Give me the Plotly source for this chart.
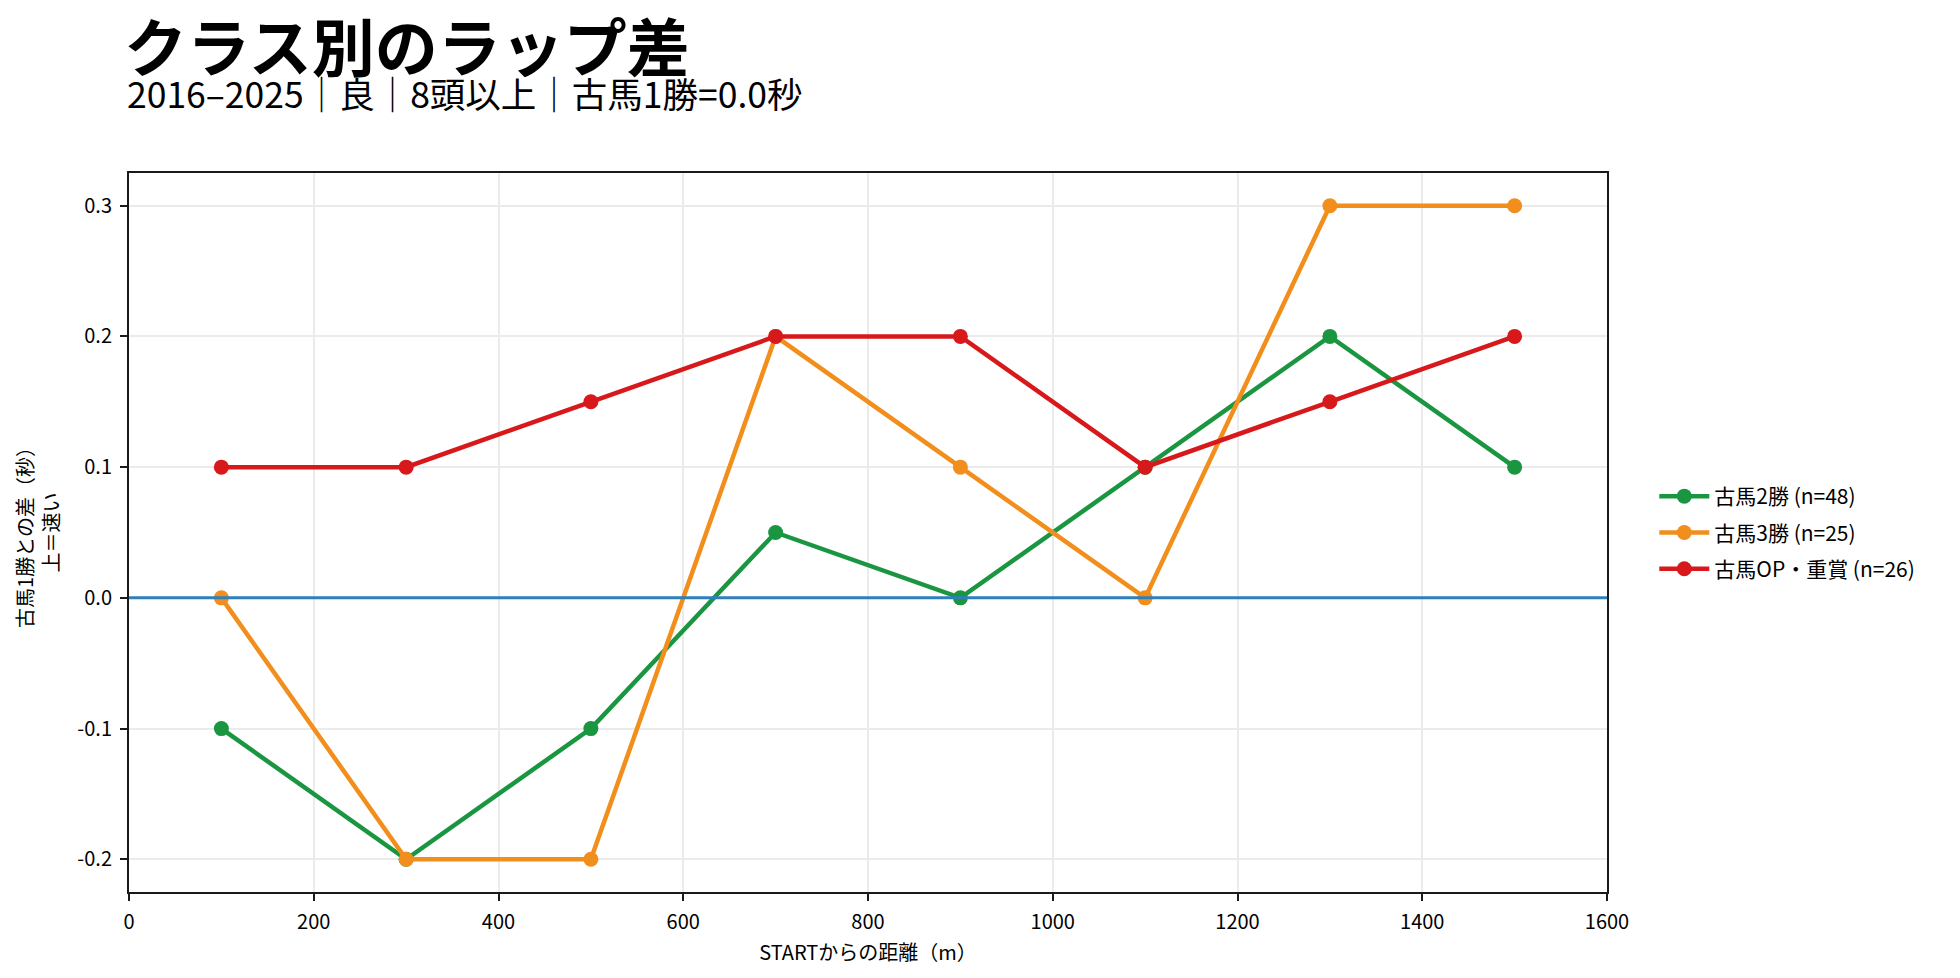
import plotly.graph_objects as go

# データ
dist = [100, 300, 500, 700, 900, 1100, 1300, 1500]
c2_diff = [-0.1, -0.2, -0.1, 0.05, 0.0, 0.1, 0.2, 0.1]
c3_diff = [0.0, -0.2, -0.2, 0.2, 0.1, 0.0, 0.3, 0.3]
op_diff = [0.1, 0.1, 0.15, 0.2, 0.2, 0.1, 0.15, 0.2]

names = ["古馬2勝 (n=48)", "古馬3勝 (n=25)", "古馬OP・重賞 (n=26)"]
colors = ["#1a9641", "#f28e1c", "#d7191c"]

y_ticks = [-0.2, -0.1, 0.0, 0.1, 0.2, 0.3]
y_ticktext = ["-0.2", "-0.1", "0.0", "0.1", "0.2", "0.3"]
x_ticks = [0, 200, 400, 600, 800, 1000, 1200, 1400, 1600]

FONT = "Noto Sans CJK JP"

fig = go.Figure()

for name, col, vals in zip(names, colors, [c2_diff, c3_diff, op_diff]):
    fig.add_trace(go.Scatter(
        x=dist, y=vals,
        mode="lines+markers",
        name=name,
        legendgroup=name,
        line=dict(color=col, width=4.5),
        marker=dict(color=col, size=15),
    ))

# 基準線 (古馬1勝 = 0) — 線の上に描く
fig.add_hline(y=0, line=dict(color="#2f7fbc", width=3), layer="above")

axis_common = dict(
    showline=True, linecolor="#1a1a1a", linewidth=2, mirror=True,
    ticks="outside", ticklen=7, tickwidth=2, tickcolor="#1a1a1a",
    ticklabelstandoff=4,
    showgrid=True, gridcolor="#ebebeb", gridwidth=1.5,
    zeroline=False, automargin=False,
    tickfont=dict(family=FONT, size=20, color="#000"),
)

fig.update_xaxes(
    range=[0, 1600], tickvals=x_ticks,
    title=dict(text="STARTからの距離（m）", font=dict(family=FONT, size=20, color="#000"), standoff=12),
    **axis_common,
)
fig.update_yaxes(
    range=[-0.225, 0.325], tickvals=y_ticks, ticktext=y_ticktext,
    title=dict(text="古馬1勝との差（秒）<br>上＝速い", font=dict(family=FONT, size=20, color="#000"), standoff=12),
    **axis_common,
)

fig.add_annotation(
    text="<b>クラス別のラップ差</b>", xref="paper", yref="paper",
    x=-0.004, y=1.180, xanchor="left", yanchor="middle", showarrow=False,
    font=dict(family=FONT, size=63, color="#000"), borderpad=0,
)
fig.add_annotation(
    text="2016–2025｜良｜8頭以上｜古馬1勝=0.0秒", xref="paper", yref="paper",
    x=-0.002, y=1.112, xanchor="left", yanchor="middle", showarrow=False,
    font=dict(family=FONT, size=35.5, color="#000"), borderpad=0,
)

fig.update_layout(
    width=1944, height=962,
    margin=dict(l=121, r=345, t=165, b=78),
    paper_bgcolor="white", plot_bgcolor="white",
    font=dict(family=FONT, size=20, color="#000"),
    legend=dict(
        x=1.032, y=0.5, xanchor="left", yanchor="middle",
        font=dict(family=FONT, size=21, color="#000"),
        itemwidth=50, tracegroupgap=6,
        bgcolor="rgba(0,0,0,0)",
    ),
    showlegend=True,
)

fig.write_html("out.html")
